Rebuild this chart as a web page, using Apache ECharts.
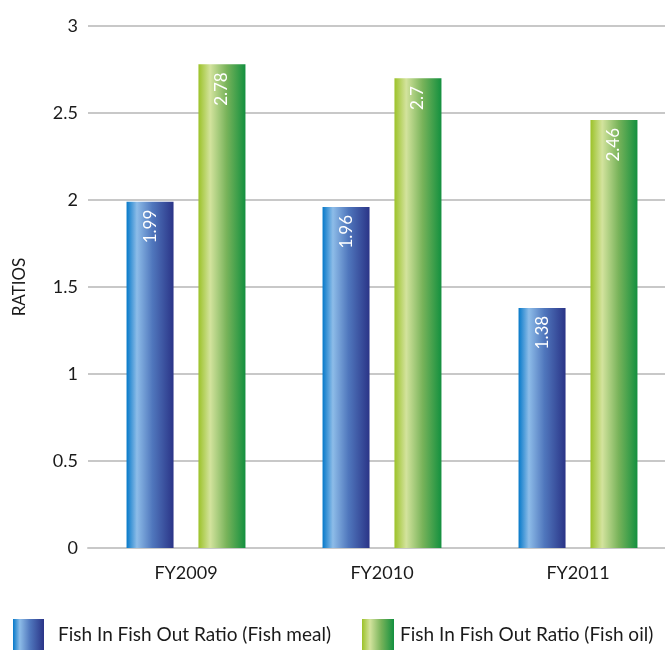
<!DOCTYPE html>
<html>
<head>
<meta charset="utf-8">
<style>
  html, body { margin: 0; padding: 0; background: #ffffff; overflow: hidden; }
  #chart { width: 680px; height: 653px; }
</style>
<script src="https://cdn.jsdelivr.net/npm/echarts@6/dist/echarts.min.js"></script>
</head>
<body>
<div id="chart"></div>
<script>
// Fish In Fish Out ratios by fiscal year
const categories = ['FY2009', 'FY2010', 'FY2011'];
const fishMeal = [1.99, 1.96, 1.38];
const fishOil = [2.78, 2.7, 2.46];
const seriesNames = ['Fish In Fish Out Ratio (Fish meal)', 'Fish In Fish Out Ratio (Fish oil)'];
const yTicks = { min: 0, max: 3, interval: 0.5 };

const FONT = 'Lato, "Open Sans", sans-serif';

function hGradient(stops) {
  return new echarts.graphic.LinearGradient(0, 0, 1, 0,
    stops.map(([offset, color]) => ({ offset, color })));
}
const blueFill = hGradient([[0, '#0679c9'], [0.22, '#8dbce8'], [0.55, '#5077bd'], [1, '#2a3487']]);
const greenFill = hGradient([[0, '#9cc229'], [0.25, '#d3e39d'], [0.6, '#78b35a'], [1, '#13903f']]);

const barLabel = {
  show: true,
  position: 'insideTop',
  distance: 8,
  rotate: 90,
  align: 'right',
  verticalAlign: 'middle',
  color: '#ffffff',
  fontFamily: FONT,
  fontSize: 17
};

const legendText = { fontFamily: FONT, fontSize: 19, color: '#1a1a1a' };

const chart = echarts.init(document.getElementById('chart'), null, { renderer: 'canvas' });
chart.setOption({
  backgroundColor: '#ffffff',
  animation: false,
  // the plot runs a little past the right edge of the visible page
  grid: { left: 88, top: 26, right: 4, bottom: 105, containLabel: false },
  legend: [
    {
      data: [seriesNames[0]],
      left: 13, top: 619, padding: 0,
      icon: 'rect',
      itemWidth: 31, itemHeight: 31,
      textStyle: Object.assign({ padding: [12, 0, 0, 9] }, legendText)
    },
    {
      data: [seriesNames[1]],
      left: 362, top: 619, padding: 0,
      icon: 'rect',
      itemWidth: 32, itemHeight: 31,
      textStyle: Object.assign({ padding: [12, 0, 0, 1] }, legendText)
    }
  ],
  xAxis: {
    type: 'category',
    data: categories,
    axisTick: { show: false },
    axisLine: { lineStyle: { color: '#c8c8c8', width: 2 } },
    axisLabel: { fontFamily: FONT, fontSize: 18, color: '#1a1a1a', margin: 16 }
  },
  yAxis: {
    type: 'value',
    min: yTicks.min, max: yTicks.max, interval: yTicks.interval,
    name: 'RATIOS',
    nameLocation: 'middle',
    nameGap: 60,
    nameRotate: 90,
    nameTextStyle: { fontFamily: FONT, fontSize: 17, color: '#1a1a1a' },
    axisLine: { show: false },
    axisTick: { show: false },
    axisLabel: { fontFamily: FONT, fontSize: 18, color: '#1a1a1a', margin: 10 },
    splitLine: { lineStyle: { color: '#c8c8c8', width: 2 } }
  },
  series: [
    {
      name: seriesNames[0],
      type: 'bar',
      data: fishMeal,
      barWidth: 47,
      barGap: '53%',
      itemStyle: { color: blueFill },
      label: barLabel
    },
    {
      name: seriesNames[1],
      type: 'bar',
      data: fishOil,
      barWidth: 47,
      itemStyle: { color: greenFill },
      label: barLabel
    }
  ]
});
</script>
</body>
</html>
